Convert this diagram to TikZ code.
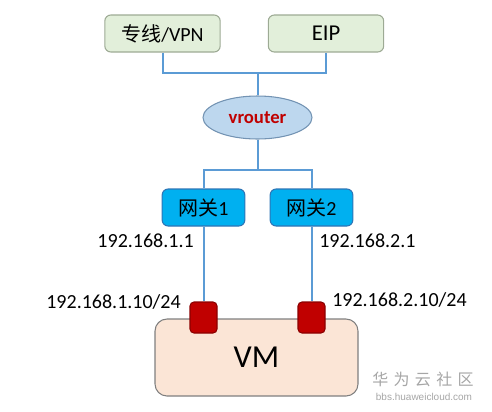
\documentclass[tikz,border=0pt]{standalone}
\usepackage{fontspec}
\setmainfont{Carlito}
\newfontfamily\cjk{Noto Sans CJK SC}
\newfontfamily\webfont{Liberation Sans}
\usetikzlibrary{shapes.geometric}
\definecolor{boxgreen}{HTML}{E2EFDA}
\definecolor{boxgreenline}{HTML}{9DAA94}
\definecolor{routerblue}{HTML}{BDD7EE}
\definecolor{routerline}{HTML}{7393B3}
\definecolor{gwblue}{HTML}{00B0F0}
\definecolor{gwline}{HTML}{2E75B6}
\definecolor{portred}{HTML}{C00000}
\definecolor{portline}{HTML}{8B0000}
\definecolor{vmfill}{HTML}{FBE5D6}
\definecolor{vmline}{HTML}{7F7F7F}
\definecolor{wireblue}{HTML}{5B9BD5}
\tikzset{
  exitbox/.style={draw=boxgreenline, fill=boxgreen, rounded corners=4.5pt, line width=0.8pt,
    minimum width=86.5pt, minimum height=27.75pt, inner sep=0pt, font=\fontsize{15}{18}\selectfont},
  gwbox/.style={draw=gwline, fill=gwblue, rounded corners=4.5pt, line width=0.8pt,
    minimum width=62pt, minimum height=27.75pt, inner sep=0pt, font=\fontsize{15}{18}\selectfont},
  portbox/.style={draw=portline, fill=portred, rounded corners=3pt, line width=0.8pt,
    minimum width=20.25pt, minimum height=23.25pt, inner sep=0pt},
  wire/.style={draw=wireblue, line width=1.5pt},
  addr/.style={inner sep=0pt, font=\fontsize{15}{18}\selectfont}
}
\begin{document}
\begin{tikzpicture}[x=0.75pt, y=-0.75pt]
\useasboundingbox (0,0) rectangle (492,411);
\node[exitbox] (vpn) at (162.5,33.5) {{\cjk 专线}/VPN};
\node[exitbox, font=\fontsize{17}{20}\selectfont] (eip) at (326,33.5) {EIP};
\node[ellipse, draw=routerline, fill=routerblue, line width=0.8pt, minimum width=81.75pt,
  minimum height=32.25pt, inner sep=0pt, text=portred, font=\fontsize{14}{16}\selectfont\bfseries]
  (vrouter) at (257.5,117.5) {vrouter};
\coordinate (top) at (257.5,73);
\coordinate (mid) at (257.5,170);
\node[gwbox] (gw1) at (203.5,207.5) {{\cjk 网关}1};
\node[gwbox] (gw2) at (311.5,207.5) {{\cjk 网关}2};
\node[draw=vmline, fill=vmfill, rounded corners=9pt, line width=0.8pt, minimum width=152.25pt,
  minimum height=57.75pt, inner sep=0pt, font=\fontsize{24}{28}\selectfont]
  (vm) at (256.5,357.5) {VM};
\node[portbox] (port1) at (203.5,317.5) {};
\node[portbox] (port2) at (311.5,317.5) {};
\draw[wire] (vpn.south) |- (top) -| (eip.south);
\draw[wire] (top) -- (vrouter.north);
\draw[wire] (vrouter.south) -- (mid);
\draw[wire] (gw1.north) |- (mid) -| (gw2.north);
\draw[wire] (gw1.south) -- (port1.north);
\draw[wire] (gw2.south) -- (port2.north);
\node[addr, anchor=east] (gw1ip) at (194,241) {192.168.1.1};
\node[addr, anchor=west] (gw2ip) at (319,241) {192.168.2.1};
\node[addr, anchor=east] (port1ip) at (181,302) {192.168.1.10/24};
\node[addr, anchor=west] (port2ip) at (332,300) {192.168.2.10/24};
\node[text=black!35, font=\cjk\fontsize{12}{14}\selectfont] (mark) at (423,379) {华\,\,为\,\,云\,\,社\,\,区};
\node[text=black!35, inner sep=0pt, font=\webfont\fontsize{7.5}{9}\selectfont] (site) at (424,397) {bbs.huaweicloud.com};
\end{tikzpicture}
\end{document}
